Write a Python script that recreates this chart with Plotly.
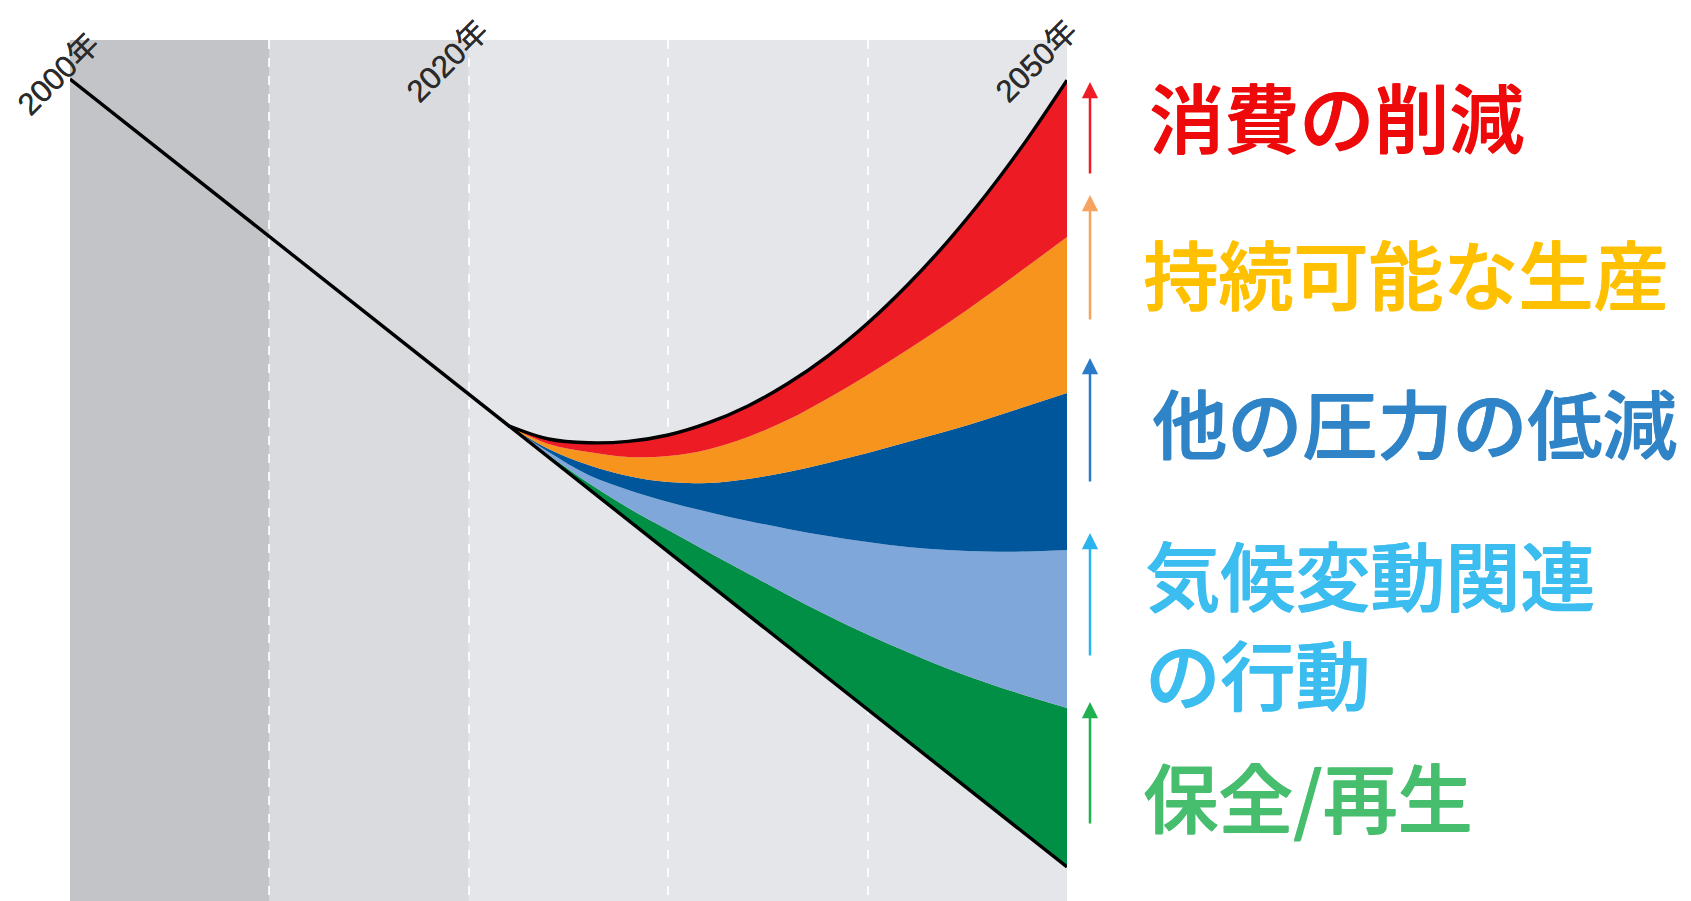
import plotly.graph_objects as go

# ---------------- data ----------------
# Business-as-usual biodiversity trajectory (index)
bau_years = [2000, 2050]
bau_values = [95.47, 3.95]

# Years for the "bending the curve" contributions
years = [2022, 2024, 2026, 2028, 2030, 2032, 2034, 2036, 2038, 2040, 2042, 2044, 2046, 2048, 2050]
# business-as-usual index at those years
baseline = [55.20, 51.54, 47.88, 44.22, 40.56, 36.90, 33.24, 29.58, 25.92, 22.26,
            18.59, 14.93, 11.27, 7.61, 3.95]

# contribution of each action (index points, stacked above the baseline)
categories = ["保全/再生", "気候変動関連の行動", "他の圧力の低減", "持続可能な生産", "消費の削減"]
conservation = [0.0, 0.26, 0.67, 1.43, 2.53, 3.64, 4.80, 5.97, 7.25, 8.70,
                10.33, 12.07, 14.05, 16.20, 18.47]
climate = [0.0, 0.35, 0.93, 2.09, 3.25, 4.65, 6.10, 7.67, 9.23, 10.74,
           12.20, 13.76, 15.27, 16.78, 18.35]
other_pressures = [0.0, 0.35, 1.16, 1.63, 2.32, 3.37, 4.88, 6.62, 8.48, 10.34,
                   12.20, 13.82, 15.39, 16.90, 18.23]
production = [0.0, 0.58, 1.51, 2.21, 3.02, 3.89, 4.88, 6.04, 7.49, 9.06,
              10.69, 12.49, 14.34, 16.20, 18.12]
consumption = [0.0, 0.58, 1.07, 1.80, 2.44, 3.07, 3.60, 4.22, 4.92, 6.00,
               7.53, 9.49, 11.88, 14.77, 18.21]

year_labels = ["2000年", "2020年", "2050年"]

band_colors = ["#008f45", "#7fa7da", "#00569b", "#f7941d", "#ed1c24"]
arrow_colors = ["#1fb14f", "#2bb3ee", "#2a7cc8", "#f5a35e", "#ee1c25"]
text_colors = ["#46be6e", "#3cbdf0", "#2f84c8", "#ffc000", "#ee0a0a"]

# ---------------- layout helpers (pixel -> paper) ----------------
W, H = 1691, 901
L, R, T, B = 70, 1067, 40, 901


def px_x(p):
    return (p - L) / (R - L)


def px_y(p):
    return (B - p) / (B - T)


fig = go.Figure()

# invisible baseline for the stack
fig.add_trace(go.Scatter(x=years, y=baseline, stackgroup="one", mode="lines",
                         line=dict(width=0, shape="spline"),
                         fillcolor="rgba(0,0,0,0)", hoverinfo="skip", showlegend=False))
series = [conservation, climate, other_pressures, production, consumption]
for i, (name, vals) in enumerate(zip(categories, series)):
    is_top = i == len(series) - 1
    fig.add_trace(go.Scatter(
        x=years, y=vals, stackgroup="one", mode="lines", name=name,
        line=dict(width=3.4 if is_top else 0, color="black" if is_top else band_colors[i],
                  shape="spline", smoothing=1.0),
        fillcolor=band_colors[i], showlegend=False))

# business-as-usual black line
fig.add_trace(go.Scatter(x=bau_years, y=bau_values, mode="lines",
                         line=dict(color="black", width=3.4), showlegend=False))

shapes = [
    dict(type="rect", xref="x", yref="paper", x0=2000, x1=2010, y0=0, y1=1,
         fillcolor="#c2c4c8", line_width=0, layer="below"),
    dict(type="rect", xref="x", yref="paper", x0=2010, x1=2020, y0=0, y1=1,
         fillcolor="#d9dbde", line_width=0, layer="below"),
    dict(type="rect", xref="x", yref="paper", x0=2020, x1=2050, y0=0, y1=1,
         fillcolor="#e4e6e9", line_width=0, layer="below"),
]

annotations = []
# year labels
year_pos = [(58, 74), (447, 61), (1036, 61)]
for lab, (cx, cy) in zip(year_labels, year_pos):
    annotations.append(dict(
        x=px_x(cx), y=px_y(cy), xref="paper", yref="paper", text=lab, showarrow=False,
        textangle=-45, xanchor="center", yanchor="middle",
        font=dict(family="Liberation Sans, Noto Sans CJK JP", size=31, color="#2b2b2b",
                  shadow="0.5px 0px 0px #2b2b2b")))

# arrows (bottom to top order: green, light blue, blue, orange, red)
arrow_px = [(702, 825), (533, 657), (358, 483), (195, 321), (82, 175)]
for col, (head, tail) in zip(arrow_colors, arrow_px):
    annotations.append(dict(
        x=px_x(1090), y=px_y(head), xref="paper", yref="paper", text="",
        showarrow=True, ax=0, ay=tail - head, arrowhead=2, arrowsize=1.3,
        arrowwidth=2.5, arrowcolor=col, standoff=0, startstandoff=0))

# text labels
label_text = ["保全/再生", "気候変動関連", "の行動", "他の圧力の低減", "持続可能な生産", "消費の削減"]
label_colors = [text_colors[0], text_colors[1], text_colors[1], text_colors[2], text_colors[3], text_colors[4]]
label_pos = [(1141, 794), (1143, 572), (1143, 671), (1150, 420), (1141, 271), (1147, 115)]
for txt, col, (lx, ly) in zip(label_text, label_colors, label_pos):
    annotations.append(dict(
        x=px_x(lx), y=px_y(ly), xref="paper", yref="paper", text=txt, showarrow=False,
        xanchor="left", yanchor="middle", align="left",
        font=dict(family="Noto Sans CJK JP", size=75, color=col, weight=500,
                  shadow=f"1px 0px 0px {col}, 0px 1px 0px {col}")))

fig.update_layout(
    width=W, height=H,
    margin=dict(l=L, r=W - R, t=T, b=H - B),
    paper_bgcolor="white", plot_bgcolor="#e4e6e9",
    xaxis=dict(range=[2000, 2050], tickvals=[2010, 2020, 2030, 2040], showticklabels=False,
               showgrid=True, gridcolor="rgba(255,255,255,0.85)", gridwidth=2, griddash="dash",
               zeroline=False, showline=False, ticks=""),
    yaxis=dict(range=[0, 100], showgrid=False, showticklabels=False, zeroline=False,
               showline=False, ticks=""),
    shapes=shapes, annotations=annotations,
)

fig.write_html("out.html")
